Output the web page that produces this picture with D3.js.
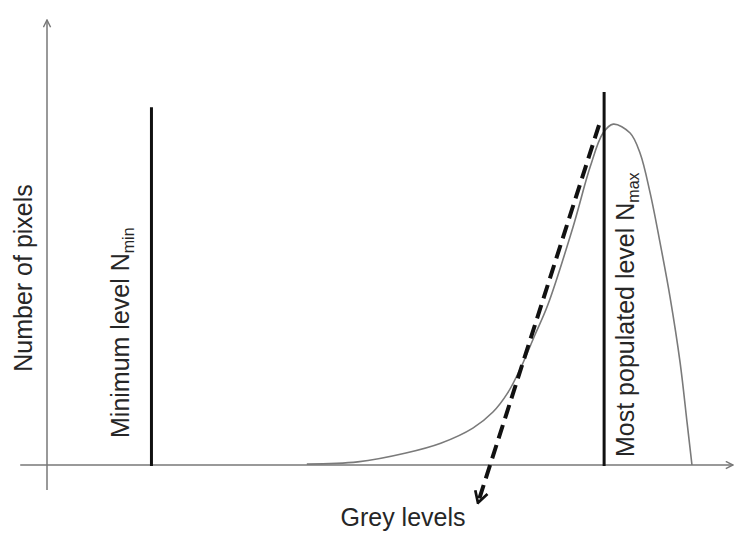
<!DOCTYPE html>
<html>
<head>
<meta charset="utf-8">
<script src="https://cdn.jsdelivr.net/npm/d3@7/dist/d3.min.js"></script>
<style>
  body { margin: 0; background: #fff; }
  svg { display: block; }
  text { font-family: "Liberation Sans", Arial, sans-serif; fill: #262626; }
</style>
</head>
<body>
<svg id="chart" width="736" height="533"></svg>
<script>
// histogram of grey levels (x: grey level 0-255, y: relative pixel count 0-100)
const greyLevels = [97, 116, 134, 147, 159, 166.5, 172, 177, 182, 187, 196.4, 202.8, 207.6, 211.4, 217.7, 221.4, 225.2, 228.9, 232.6, 236.4, 239, 240.8];
const pixelCounts = [0.2, 0.7, 2.7, 4.9, 8.3, 11.9, 16.2, 22.0, 29.0, 36.0, 53.5, 67.0, 74.6, 76.6, 74.6, 70.1, 61.1, 49.9, 37.8, 22.9, 9.4, 0];

// markers: [grey level, height]
const minLevel = [39, 80.4];
const maxLevel = [208, 83.8];

// dashed tangent: start and end points [grey level, count]
const tangentStart = [206.1, 76.4];
const tangentEnd = [160.9, -8.5];

const labels = {
  x: "Grey levels",
  y: "Number of pixels",
  min: ["Minimum level N", "min"],
  max: ["Most populated level N", "max"]
};

const width = 736;
const height = 533;

const x = d3.scaleLinear().domain([0, 255]).range([47, 730]);
const y = d3.scaleLinear().domain([0, 100]).range([465, 20]);

const svg = d3.select("#chart");
svg.append("rect").attr("width", width).attr("height", height).attr("fill", "#fff");

const defs = svg.append("defs");
defs.append("marker")
  .attr("id", "axisArrow")
  .attr("viewBox", "0 0 10 10")
  .attr("refX", 9).attr("refY", 5)
  .attr("markerWidth", 9).attr("markerHeight", 9)
  .attr("markerUnits", "userSpaceOnUse")
  .attr("orient", "auto")
  .append("path")
  .attr("d", "M1,1 L9,5 L1,9")
  .attr("fill", "none")
  .attr("stroke", "#777")
  .attr("stroke-width", 1.6);

defs.append("marker")
  .attr("id", "dashArrow")
  .attr("viewBox", "0 0 20 20")
  .attr("refX", 18).attr("refY", 10)
  .attr("markerWidth", 16).attr("markerHeight", 16)
  .attr("markerUnits", "userSpaceOnUse")
  .attr("orient", "auto")
  .append("path")
  .attr("d", "M4,2 L18,10 L4,18")
  .attr("fill", "none")
  .attr("stroke", "#111")
  .attr("stroke-width", 3.4);

// axes
svg.append("line")
  .attr("x1", x(-10)).attr("y1", y(0))
  .attr("x2", 733).attr("y2", y(0))
  .attr("stroke", "#777").attr("stroke-width", 1.5)
  .attr("marker-end", "url(#axisArrow)");

svg.append("line")
  .attr("x1", x(0)).attr("y1", y(-5.6))
  .attr("x2", x(0)).attr("y2", y(100))
  .attr("stroke", "#777").attr("stroke-width", 1.5)
  .attr("marker-end", "url(#axisArrow)");

// histogram curve
const pts = greyLevels.map((g, i) => [g, pixelCounts[i]]);
const line = d3.line()
  .x(d => x(d[0]))
  .y(d => y(d[1]))
  .curve(d3.curveCatmullRom.alpha(0.5));

svg.append("path")
  .datum(pts)
  .attr("d", line)
  .attr("fill", "none")
  .attr("stroke", "#7a7a7a")
  .attr("stroke-width", 1.6);

// level lines
[minLevel, maxLevel].forEach(m => {
  svg.append("line")
    .attr("x1", x(m[0])).attr("y1", y(0) + 1)
    .attr("x2", x(m[0])).attr("y2", y(m[1]))
    .attr("stroke", "#111").attr("stroke-width", 3);
});

// dashed tangent with arrow
svg.append("line")
  .attr("x1", x(tangentStart[0])).attr("y1", y(tangentStart[1]))
  .attr("x2", x(tangentEnd[0])).attr("y2", y(tangentEnd[1]))
  .attr("stroke", "#111").attr("stroke-width", 4)
  .attr("stroke-dasharray", "14,7")
  .attr("marker-end", "url(#dashArrow)");

// labels
svg.append("text")
  .attr("x", 403).attr("y", 526)
  .attr("text-anchor", "middle")
  .attr("font-size", 25)
  .text(labels.x);

svg.append("text")
  .attr("transform", "translate(32,278) rotate(-90)")
  .attr("text-anchor", "middle")
  .attr("font-size", 25)
  .text(labels.y);

function levelLabel(px, py, parts) {
  const t = svg.append("text")
    .attr("transform", `translate(${px},${py}) rotate(-90)`)
    .attr("font-size", 25);
  t.append("tspan").text(parts[0]);
  t.append("tspan").attr("font-size", 16).attr("dy", 5).text(parts[1]);
}

levelLabel(129, 438, labels.min);
levelLabel(634, 457, labels.max);
</script>
</body>
</html>
